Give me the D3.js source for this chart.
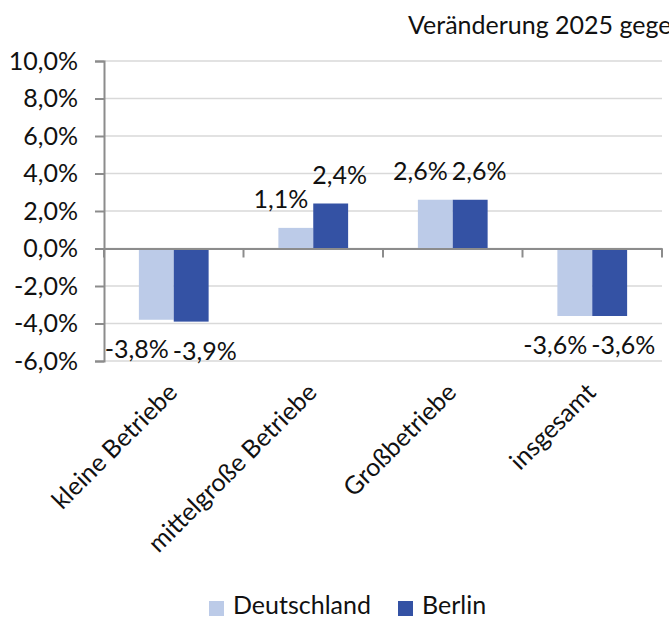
<!doctype html>
<html lang="de">
  <head>
    <meta charset="utf-8">
    <title>Veränderung 2025</title>
    <script src="https://d3js.org/d3.v7.min.js"></script>
    <style>
      body { margin: 0; background: #fff; }
      text { font-family: Lato, "Noto Sans", sans-serif; fill: #111; }
    </style>
  </head>
  <body>
    <svg width="669" height="619"></svg>
    <script>
      // data
      var categories = ['kleine Betriebe', 'mittelgroße Betriebe', 'Großbetriebe', 'insgesamt'];
      var series = ['Deutschland', 'Berlin'];
      var deutschland = [-3.8, 1.1, 2.6, -3.6];
      var berlin = [-3.9, 2.4, 2.6, -3.6];
      var yTicks = [-6, -4, -2, 0, 2, 4, 6, 8, 10];
      var colors = ['#bccbe8', '#3452a4'];

      var values = [deutschland, berlin];
      var fmt = function(v) { return v.toFixed(1).replace('.', ',') + '%'; };

      var svg = d3.select('svg');
      var fs = 25;

      var x = d3.scaleBand().domain(categories).range([104, 662]);
      var xs = d3.scaleBand().domain(series).range([x.bandwidth() * 0.25, x.bandwidth() * 0.75]);
      var y = d3.scaleLinear().domain([-6, 10]).range([361, 61]);

      // title (cut off at the right edge like the original)
      svg.append('text')
        .attr('x', 408).attr('y', 34)
        .style('font-size', fs + 'px')
        .text('Veränderung 2025 gegenüber 2024');

      // gridlines
      svg.append('g').selectAll('line').data(yTicks).enter().append('line')
        .attr('x1', 104).attr('x2', 662)
        .attr('y1', function(d){ return y(d); }).attr('y2', function(d){ return y(d); })
        .style('stroke', '#d9d9d9').style('stroke-width', 1.5);

      // y axis
      var yAxis = svg.append('g')
        .attr('transform', 'translate(104,0)')
        .call(d3.axisLeft(y).tickValues(yTicks).tickSize(9).tickPadding(17)
          .tickFormat(fmt));
      yAxis.select('.domain').style('stroke', '#8c8c8c').style('stroke-width', 2);
      yAxis.selectAll('.tick line').style('stroke', '#8c8c8c').style('stroke-width', 2);
      yAxis.selectAll('text').style('font-size', fs + 'px').style('font-family', 'Lato, "Noto Sans", sans-serif').style('fill', '#111');

      // bars
      var groups = svg.append('g').selectAll('g').data(categories).enter().append('g')
        .attr('transform', function(d){ return 'translate(' + x(d) + ',0)'; });

      groups.selectAll('rect')
        .data(function(d, i){ return series.map(function(s, j){ return { s: s, j: j, v: values[j][i] }; }); })
        .enter().append('rect')
        .attr('x', function(d){ return xs(d.s); })
        .attr('width', xs.bandwidth())
        .attr('y', function(d){ return y(Math.max(0, d.v)); })
        .attr('height', function(d){ return Math.abs(y(d.v) - y(0)); })
        .style('fill', function(d){ return colors[d.j]; });

      // x axis at zero
      var xAxis = svg.append('g')
        .attr('transform', 'translate(0,' + y(0) + ')')
        .call(d3.axisBottom(x).tickSize(0).tickFormat(''));
      xAxis.select('.domain').style('stroke', '#8c8c8c').style('stroke-width', 2);
      xAxis.selectAll('.sep').data(x.domain().map(function(d){ return x(d); }).concat([x.range()[1]]))
        .enter().append('line').attr('class', 'sep')
        .attr('x1', function(d){ return d; }).attr('x2', function(d){ return d; })
        .attr('y1', 0).attr('y2', 9)
        .style('stroke', '#8c8c8c').style('stroke-width', 2);

      // value labels
      var labels = groups.selectAll('.lbl')
        .data(function(d, i){ return series.map(function(s, j){ return { s: s, j: j, v: values[j][i] }; }); })
        .enter().append('text').attr('class', 'lbl')
        .style('font-size', fs + 'px')
        .attr('text-anchor', 'middle')
        .attr('x', function(d){ return xs(d.s) + xs.bandwidth() / 2; })
        .attr('y', function(d){ return d.v >= 0 ? y(d.v) - 20 : y(d.v) + 38; })
        .text(function(d){ return fmt(d.v); });

      // push overlapping labels apart
      groups.each(function() {
        var t = d3.select(this).selectAll('.lbl').nodes();
        var a = t[0], b = t[1];
        var wa = a.getComputedTextLength(), wb = b.getComputedTextLength();
        var xa = +a.getAttribute('x'), xb = +b.getAttribute('x');
        var ya = +a.getAttribute('y'), yb = +b.getAttribute('y');
        var need = (wa + wb) / 2 + 4;
        if (Math.abs(ya - yb) < 30 && xb - xa < need) {
          var shift = (need - (xb - xa)) / 2;
          a.setAttribute('x', xa - shift - 3);
          b.setAttribute('x', xb + shift - 3);
        }
      });

      // category labels
      svg.append('g').selectAll('text').data(categories).enter().append('text')
        .attr('text-anchor', 'end')
        .style('font-size', fs + 'px')
        .attr('transform', function(d){ return 'translate(' + (x(d) + x.bandwidth() / 2 + 5) + ',394) rotate(-45)'; })
        .text(function(d){ return d; });

      // legend
      var legend = svg.append('g');
      var lx = [209, 398];
      series.forEach(function(s, j) {
        legend.append('rect').attr('x', lx[j]).attr('y', 601).attr('width', 15).attr('height', 15)
          .style('fill', colors[j]);
        legend.append('text').attr('x', lx[j] + 24).attr('y', 614)
          .style('font-size', fs + 'px').text(s);
      });
    </script>
  </body>
</html>
